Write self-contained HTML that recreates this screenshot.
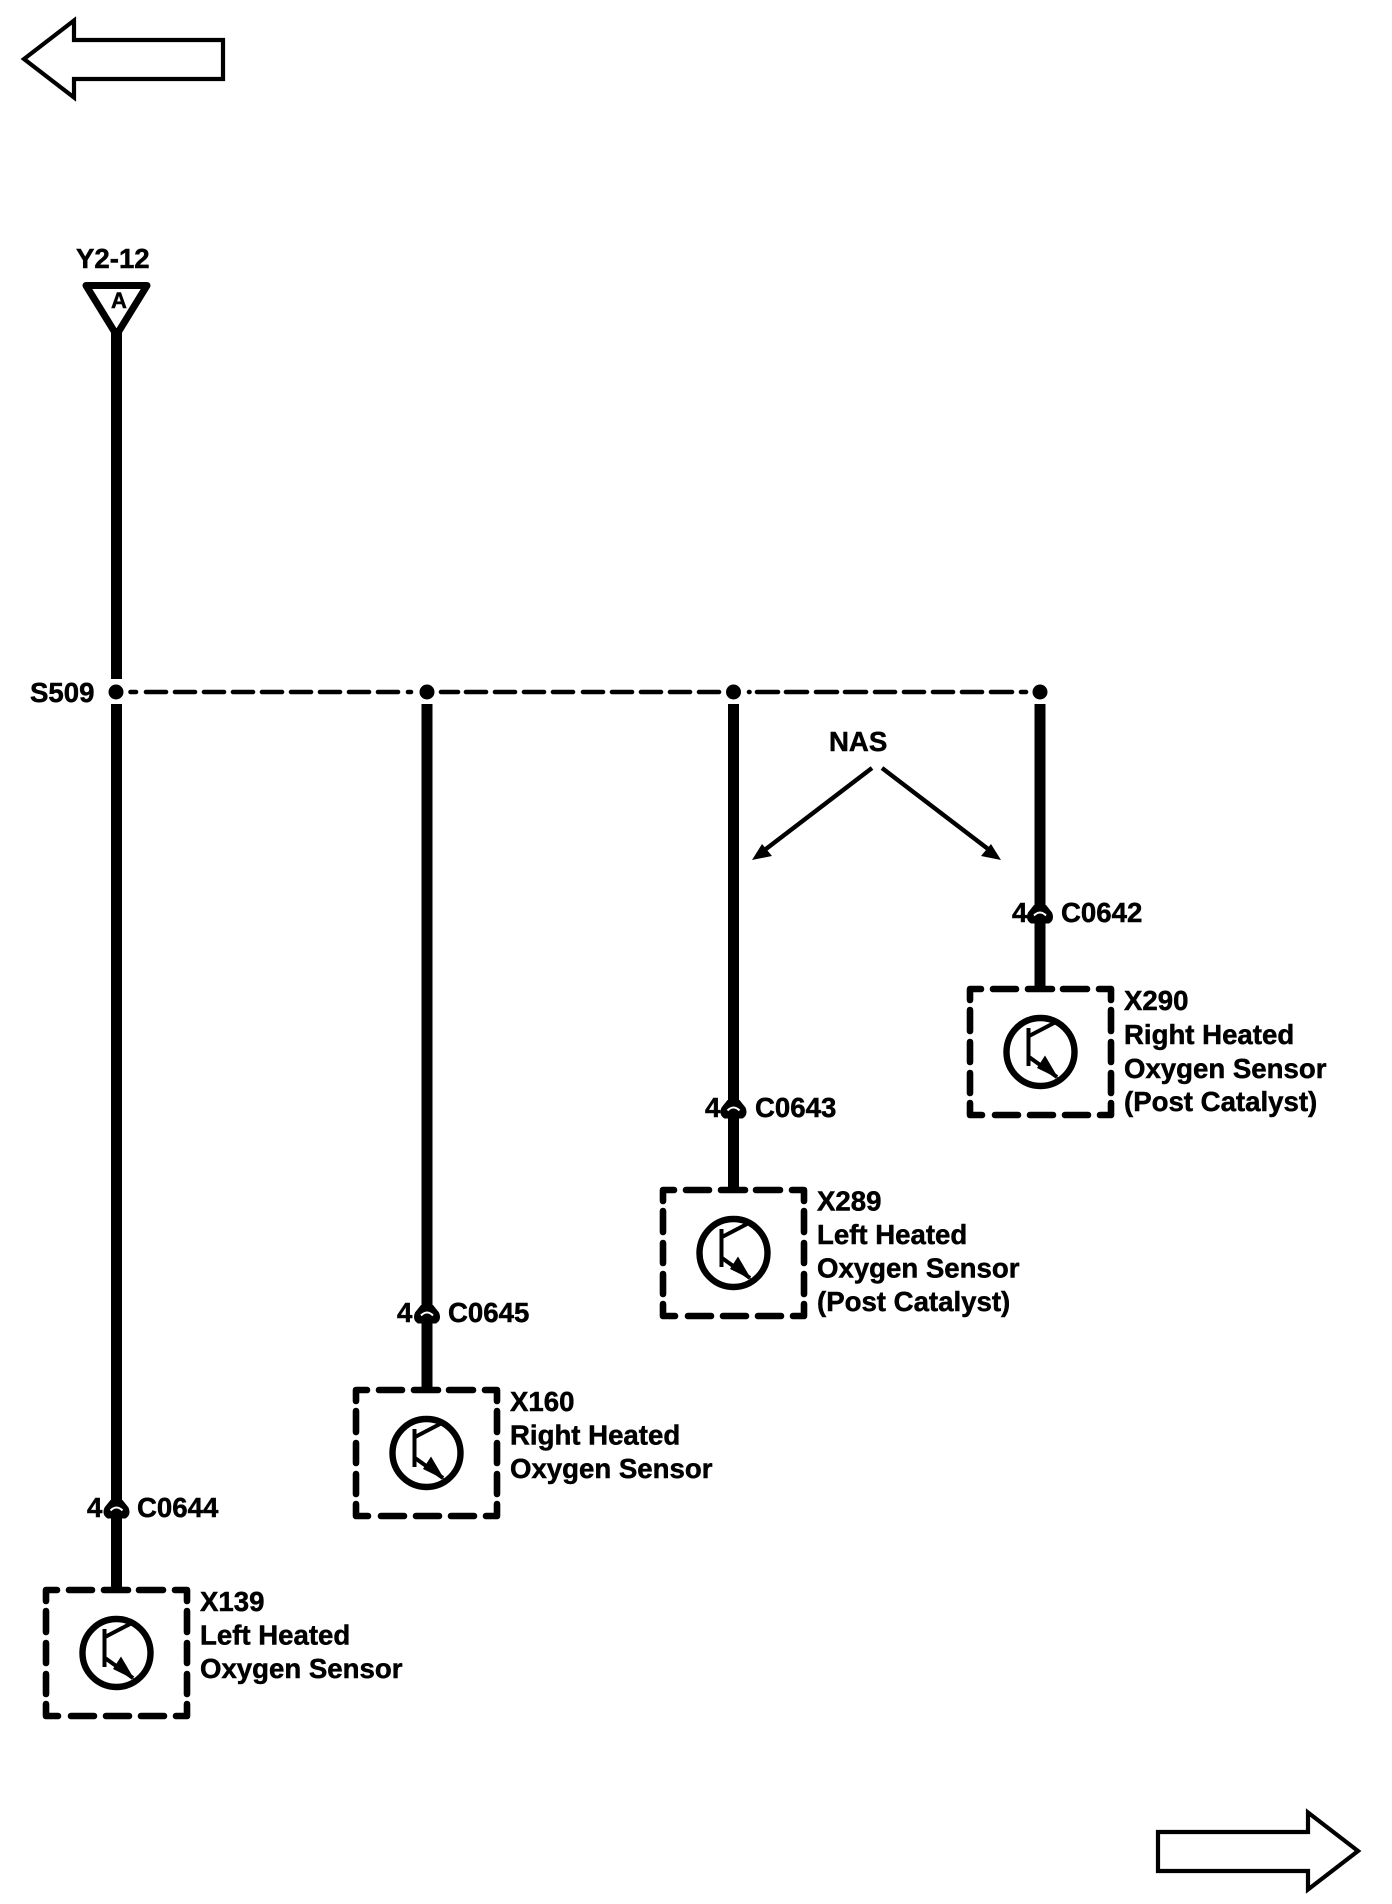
<!DOCTYPE html>
<html>
<head>
<meta charset="utf-8">
<style>
html,body{margin:0;padding:0;background:#fff}
svg{display:block}
text{font-family:"Liberation Sans",Arial,sans-serif;font-weight:bold;font-size:27.6px;fill:#000;stroke:#000;stroke-width:.5px}
</style>
</head>
<body>
<svg width="1392" height="1904" viewBox="0 0 1392 1904" xmlns="http://www.w3.org/2000/svg">
<defs>
  <g id="box">
    <path fill="none" stroke="#000" stroke-width="6.6" stroke-linecap="round" stroke-linejoin="round"
      d="M3,14V3H14 M26,3H49 M61,3H85 M96,3H120 M132,3H144V14
         M3,24V45 M3,56V76 M3,87V107
         M144,24V45 M144,56V76 M144,87V107
         M3,117V129H15 M28,129H51 M63,129H86 M98,129H121 M133,129H144V117"/>
    <circle cx="73.5" cy="66" r="34" fill="none" stroke="#000" stroke-width="6.4"/>
    <path fill="none" stroke="#000" stroke-width="4" d="M61.5,42V80 M62,50L87,37 M62,71L90,91"/>
    <path fill="#000" d="M91.5,92.5L70,82L78,69.5Z"/>
  </g>
  <g id="conn">
    <path fill="#000" d="M-6,0H6L12,7.5Q15,15 9,18.5H-9Q-15,15 -12,7.5Z"/>
    <path fill="none" stroke="#fff" stroke-width="2" d="M-6,10.5Q0,4.5 6,10.5"/>
  </g>
</defs>

<rect width="1392" height="1904" fill="#fff"/>

<!-- page arrows -->
<polygon points="24,59 74,20.5 74,40 223,40 223,79 74,79 74,97.5" fill="#fff" stroke="#000" stroke-width="4.2" stroke-linejoin="miter"/>
<polygon points="1358,1851 1308,1812.5 1308,1832 1158,1832 1158,1871 1308,1871 1308,1889.5" fill="#fff" stroke="#000" stroke-width="4.2" stroke-linejoin="miter"/>

<!-- top terminal -->
<text x="76" y="268">Y2-12</text>
<polygon points="86,285.5 147,285.5 116.5,335" fill="#fff" stroke="#000" stroke-width="7" stroke-linejoin="round"/>
<text x="119" y="308" text-anchor="middle" style="font-size:22px">A</text>

<!-- wires -->
<g fill="#000">
  <rect x="111" y="330" width="11" height="349"/>
  <rect x="111" y="704" width="11" height="886"/>
  <rect x="421.5" y="704" width="11" height="686"/>
  <rect x="728" y="704" width="11" height="486"/>
  <rect x="1034.5" y="704" width="11" height="285"/>
</g>

<!-- dashed bus -->
<path fill="none" stroke="#000" stroke-width="4.6" stroke-linecap="round"
  d="M130.5,692H136 M146,692H166 M175,692H195 M204,692H224 M233,692H253 M262,692H282 M291,692H311 M320,692H340 M349,692H369 M378,692H398 M408,692H411
     M441,692H458 M466,692H486 M495,692H515 M524,692H544 M553,692H573 M583,692H603 M612,692H632 M641,692H661 M670,692H690 M699,692H719
     M749,692H749.5 M757,692H778 M786,692H807 M816,692H837 M845,692H866 M875,692H895 M904,692H924 M933,692H953 M962,692H982 M991,692H1012 M1021,692H1026"/>
<g fill="#000">
  <circle cx="116" cy="692" r="7.5"/>
  <circle cx="427" cy="692" r="7.5"/>
  <circle cx="733.5" cy="692" r="7.5"/>
  <circle cx="1040" cy="692" r="7.5"/>
</g>
<text x="30" y="702">S509</text>

<!-- NAS -->
<text x="829" y="751">NAS</text>
<g fill="none" stroke="#000" stroke-width="4.4">
  <path d="M872,768L762,852"/>
  <path d="M882,768L992,852"/>
</g>
<path fill="#000" d="M752,860L762,844L772,856Z"/>
<path fill="#000" d="M1001,860L991,844L981,856Z"/>

<!-- connectors -->
<use href="#conn" x="116.5" y="1500"/>
<use href="#conn" x="427" y="1305"/>
<use href="#conn" x="733.5" y="1100"/>
<use href="#conn" x="1040" y="905"/>

<text x="87" y="1517">4</text><text x="137" y="1517">C0644</text>
<text x="397" y="1322">4</text><text x="448" y="1322">C0645</text>
<text x="705" y="1117">4</text><text x="755" y="1117">C0643</text>
<text x="1012" y="922">4</text><text x="1061" y="922">C0642</text>

<!-- component boxes -->
<use href="#box" x="43" y="1587"/>
<use href="#box" x="353" y="1387"/>
<use href="#box" x="660" y="1187"/>
<use href="#box" x="967" y="986"/>

<!-- component labels -->
<text x="200" y="1611">X139</text>
<text x="200" y="1644.5">Left Heated</text>
<text x="200" y="1678">Oxygen Sensor</text>

<text x="510" y="1411">X160</text>
<text x="510" y="1444.5">Right Heated</text>
<text x="510" y="1478">Oxygen Sensor</text>

<text x="817" y="1210.5">X289</text>
<text x="817" y="1244">Left Heated</text>
<text x="817" y="1277.5">Oxygen Sensor</text>
<text x="817" y="1311">(Post Catalyst)</text>

<text x="1124" y="1010">X290</text>
<text x="1124" y="1044">Right Heated</text>
<text x="1124" y="1078">Oxygen Sensor</text>
<text x="1124" y="1111">(Post Catalyst)</text>
</svg>
</body>
</html>
